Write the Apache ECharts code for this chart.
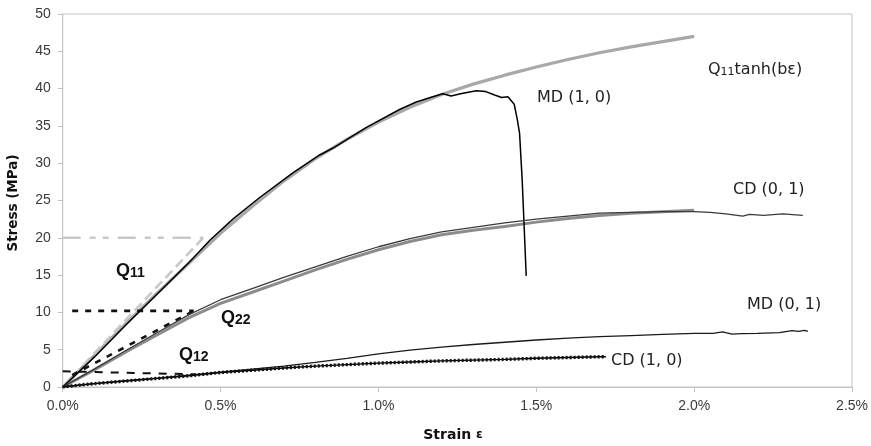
<!DOCTYPE html>
<html>
<head>
<meta charset="utf-8">
<script src="https://cdn.jsdelivr.net/npm/echarts@6/dist/echarts.min.js"></script>
<style>
  html, body { margin: 0; padding: 0; background: #fff; }
  #chart { width: 871px; height: 446px; }
</style>
</head>
<body>
<div id="chart"></div>
<script>
// Axis ticks (strain in %, stress in MPa)
const strainTicks = [0, 0.5, 1.0, 1.5, 2.0, 2.5];
const stressTicks = [0, 5, 10, 15, 20, 25, 30, 35, 40, 45, 50];

// Measured curves: [strain %, stress MPa]
const md10 = [
  [0, 0], [0.05, 2.0], [0.1, 4.0], [0.2, 8.3], [0.3, 12.5], [0.4, 16.7], [0.467, 19.7],
  [0.539, 22.5], [0.624, 25.4], [0.729, 28.7], [0.814, 31.1], [0.855, 32.0], [0.962, 34.8],
  [1.067, 37.2], [1.12, 38.2], [1.172, 38.9], [1.204, 39.3], [1.23, 39.0], [1.26, 39.3],
  [1.31, 39.7], [1.34, 39.6], [1.37, 39.1], [1.39, 38.8], [1.41, 38.9], [1.43, 37.9],
  [1.44, 35.8], [1.447, 34.0], [1.455, 28.0], [1.462, 21.0], [1.468, 14.9]
];
const cd01 = [
  [0, 0], [0.1, 2.4], [0.2, 4.9], [0.3, 7.3], [0.4, 9.7], [0.5, 11.7], [0.6, 13.2],
  [0.7, 14.7], [0.8, 16.1], [0.9, 17.5], [1.0, 18.8], [1.1, 19.9], [1.2, 20.8], [1.3, 21.4],
  [1.4, 22.0], [1.5, 22.5], [1.6, 22.9], [1.7, 23.3], [1.8, 23.4], [1.9, 23.5], [2.0, 23.5],
  [2.05, 23.4], [2.1, 23.2], [2.154, 22.9], [2.175, 23.15], [2.22, 23.0], [2.28, 23.2],
  [2.344, 23.0]
];
const md01 = [
  [0, 0], [0.1, 0.45], [0.2, 0.85], [0.3, 1.2], [0.4, 1.6], [0.5, 2.0], [0.6, 2.4],
  [0.7, 2.8], [0.8, 3.3], [0.9, 3.85], [1.0, 4.45], [1.1, 4.95], [1.2, 5.35], [1.3, 5.7],
  [1.4, 6.0], [1.5, 6.3], [1.6, 6.55], [1.7, 6.75], [1.8, 6.9], [1.9, 7.05], [2.0, 7.2],
  [2.06, 7.2], [2.09, 7.4], [2.12, 7.1], [2.15, 7.15], [2.2, 7.2], [2.27, 7.3],
  [2.31, 7.55], [2.33, 7.45], [2.35, 7.6], [2.36, 7.45]
];
const cd10 = [
  [0, 0], [0.05, 0.25], [0.1, 0.45], [0.2, 0.8], [0.3, 1.15], [0.4, 1.5], [0.5, 1.95],
  [0.6, 2.25], [0.7, 2.55], [0.8, 2.8], [0.9, 3.0], [1.0, 3.2], [1.1, 3.35], [1.2, 3.5],
  [1.3, 3.6], [1.4, 3.7], [1.5, 3.85], [1.6, 3.95], [1.7, 4.05], [1.72, 4.05]
];

// Fitted curves
const q11Fit = [
  [0, 0], [0.1, 4.2], [0.2, 8.5], [0.3, 12.6], [0.4, 16.6], [0.5, 20.6], [0.6, 24.2],
  [0.7, 27.6], [0.8, 30.6], [0.9, 33.2], [1.0, 35.5], [1.1, 37.5], [1.2, 39.2], [1.3, 40.6],
  [1.4, 41.8], [1.5, 42.9], [1.6, 43.9], [1.7, 44.8], [1.8, 45.6], [1.9, 46.3], [2.0, 47.0]
];
const cd01Fit = [
  [0, 0], [0.1, 2.3], [0.2, 4.7], [0.3, 7.0], [0.4, 9.3], [0.5, 11.2], [0.6, 12.7],
  [0.7, 14.2], [0.8, 15.7], [0.9, 17.1], [1.0, 18.4], [1.1, 19.5], [1.2, 20.4], [1.3, 21.0],
  [1.4, 21.5], [1.5, 22.1], [1.6, 22.6], [1.7, 23.0], [1.8, 23.3], [1.9, 23.5], [2.0, 23.7]
];

// Initial-modulus guide lines
const q11Tangent = [[0, 0], [0.445, 20]];
const q11Level = [[0, 20], [0.445, 20]];
const q22Tangent = [[0.03, 1.6], [0.415, 10.2]];
const q22Level = [[0.03, 10.2], [0.415, 10.2]];
const q12Level = [[0.0, 2.1], [0.42, 1.7]];

const TICK_FONT = '"Liberation Sans", Arial, sans-serif';
const LABEL_FONT = '"DejaVu Sans", Verdana, sans-serif';

function lineSeries(name, data, color, width, extra) {
  return Object.assign({
    name: name,
    type: 'line',
    data: data,
    showSymbol: false,
    symbol: 'none',
    smooth: false,
    lineStyle: { color: color, width: width },
    emphasis: { disabled: true },
    z: 2
  }, extra || {});
}

function qLabel(digits, left, top) {
  return {
    type: 'text', left: left, top: top, style: {
      text: '{q|Q}{n|' + digits + '}',
      rich: {
        q: { fontSize: 18, fontWeight: 'bold', fontFamily: TICK_FONT, fill: '#111' },
        n: { fontSize: 14, fontWeight: 'bold', fontFamily: TICK_FONT, fill: '#111', verticalAlign: 'bottom' }
      }
    }
  };
}

function curveLabel(text, left, top) {
  return { type: 'text', left: left, top: top, style: { text: text, font: '16px ' + LABEL_FONT, fill: '#222' } };
}

const chart = echarts.init(document.getElementById('chart'), null, { renderer: 'canvas' });

const option = {
  animation: false,
  backgroundColor: '#ffffff',
  grid: {
    left: 62.7, right: 18.3, top: 14, bottom: 59,
    show: true, borderColor: '#c4c4c4', borderWidth: 1
  },
  xAxis: {
    type: 'value',
    min: strainTicks[0], max: strainTicks[strainTicks.length - 1], interval: 0.5,
    axisLine: { show: true, lineStyle: { color: '#c4c4c4', width: 1 } },
    axisTick: { show: true, length: 5, lineStyle: { color: '#c4c4c4' } },
    splitLine: { show: false },
    axisLabel: {
      margin: 12, color: '#3a3a3a', fontSize: 14, fontFamily: TICK_FONT,
      formatter: v => v.toFixed(1) + '%'
    }
  },
  yAxis: {
    type: 'value',
    min: stressTicks[0], max: stressTicks[stressTicks.length - 1], interval: 5,
    axisLine: { show: true, lineStyle: { color: '#c4c4c4', width: 1 } },
    axisTick: { show: true, length: 5, lineStyle: { color: '#c4c4c4' } },
    splitLine: { show: false },
    axisLabel: { margin: 12, color: '#3a3a3a', fontSize: 14, fontFamily: TICK_FONT }
  },
  series: [
    lineSeries('Q11 tanh fit', q11Fit, '#a8a8a8', 3.2, { z: 1 }),
    lineSeries('CD (0, 1) fit', cd01Fit, '#8c8c8c', 3, { z: 1 }),
    lineSeries('Q11 tangent', q11Tangent, '#c8c8c8', 2.6,
      { z: 1, lineStyle: { color: '#c8c8c8', width: 2.6, type: [10, 5] } }),
    lineSeries('Q11 level', q11Level, '#c8c8c8', 2.6,
      { z: 1, lineStyle: { color: '#c8c8c8', width: 2.6, type: [18, 9, 6, 7, 6, 9] } }),
    lineSeries('Q22 tangent', q22Tangent, '#111', 2.6,
      { lineStyle: { color: '#111', width: 2.6, type: [6, 7] } }),
    lineSeries('Q22 level', q22Level, '#111', 2.6,
      { lineStyle: { color: '#111', width: 2.6, type: [6, 7] } }),
    lineSeries('Q12 level', q12Level, '#111', 2,
      { lineStyle: { color: '#111', width: 2, type: [8, 8] } }),
    lineSeries('MD (1, 0)', md10, '#000', 1.5, { z: 3 }),
    lineSeries('CD (0, 1)', cd01, '#3a3a3a', 1.3, { z: 3 }),
    lineSeries('MD (0, 1)', md01, '#1a1a1a', 1.3, { z: 3 }),
    lineSeries('CD (1, 0)', cd10, '#000', 1.4, { z: 3 }),
    lineSeries('CD (1, 0) beads', cd10, '#000', 3.4,
      { z: 3, lineStyle: { color: '#111', width: 3.4, type: [2, 2] } })
  ],
  graphic: [
    { type: 'text', left: 708, top: 62, style: {
        text: '{a|Q}{s|11}{a|tanh(bε)}', fill: '#222',
        rich: { a: { fontSize: 16, fontFamily: LABEL_FONT, fill: '#222' },
                s: { fontSize: 11, fontFamily: LABEL_FONT, fill: '#222', verticalAlign: 'bottom' } } } },
    curveLabel('MD (1, 0)', 537, 90),
    curveLabel('CD (0, 1)', 733, 182),
    curveLabel('MD (0, 1)', 747, 297),
    curveLabel('CD (1, 0)', 611, 353),
    qLabel('11', 116, 262),
    qLabel('22', 221, 309),
    qLabel('12', 179, 346),
    { type: 'text', x: 13, y: 203, rotation: Math.PI / 2, style: {
        text: 'Stress (MPa)', font: 'bold 13.5px ' + LABEL_FONT, fill: '#111',
        align: 'center', verticalAlign: 'middle' } },
    { type: 'text', x: 453, y: 435, style: {
        text: '{b|Strain }{e|ε}',
        align: 'center', verticalAlign: 'middle',
        rich: { b: { fontSize: 14, fontWeight: 'bold', fontFamily: LABEL_FONT, fill: '#111' },
                e: { fontSize: 12, fontWeight: 'bold', fontFamily: LABEL_FONT, fill: '#111' } } } }
  ]
};

chart.setOption(option);
</script>
</body>
</html>
